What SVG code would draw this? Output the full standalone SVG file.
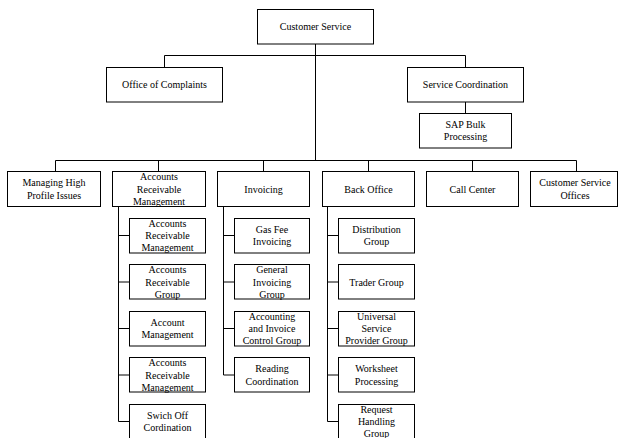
<svg xmlns="http://www.w3.org/2000/svg" width="618" height="438" viewBox="0 0 618 438">
<style>
.box{fill:#fff;stroke:#000;stroke-width:1}
.ln{fill:none;stroke:#000;stroke-width:1}
.t text{font-family:'Liberation Serif','Times New Roman',Times,serif;font-size:10px;fill:#000;text-anchor:middle}
</style>
<rect width="618" height="438" fill="#fff"/>
<g id="connectors" class="ln">
<path d="M315.5 44V160.5"/>
<path d="M164.5 67V55.5H465.5V67"/>
<path d="M465.5 102V113"/>
<path d="M55.5 171.5V160.5H576.5V171.5"/>
<path d="M158.5 160.5V171.5M263.5 160.5V171.5M368.5 160.5V171.5M472.5 160.5V171.5"/>
<path d="M118.5 206.5V421.5M118.5 235.5H129M118.5 282H129M118.5 328.5H129M118.5 375H129M118.5 421.5H129"/>
<path d="M223.5 206.5V375M223.5 235.5H234M223.5 282H234M223.5 328.5H234M223.5 375H234"/>
<path d="M327.5 206.5V421.5M327.5 235.5H338M327.5 282H338M327.5 328.5H338M327.5 375H338M327.5 421.5H338"/>
</g>
<g class="t" font-family="Liberation Serif, Times New Roman, serif" font-size="10" text-anchor="middle">
<g id="customer-service"><rect class="box" x="257.5" y="9.5" width="116" height="34.5"/><text x="315.5" y="30">Customer Service</text></g>
<g id="office-of-complaints"><rect class="box" x="106.5" y="67.5" width="116" height="34.5"/><text x="164.5" y="88">Office of Complaints</text></g>
<g id="service-coordination"><rect class="box" x="407.5" y="67.5" width="116" height="34.5"/><text x="465.5" y="88">Service Coordination</text></g>
<g id="sap-bulk"><rect class="box" x="419.5" y="113.5" width="92" height="34.5"/><text x="465.5" y="127.9">SAP Bulk</text><text x="465.5" y="140.2">Processing</text></g>

<g id="managing-high"><rect class="box" x="7.5" y="171.5" width="93" height="35"/><text x="54" y="186.4">Managing High</text><text x="54" y="198.7">Profile Issues</text></g>
<g id="arm"><rect class="box" x="112.5" y="171.5" width="93" height="35"/><text x="159" y="180.2">Accounts</text><text x="159" y="192.5">Receivable</text><text x="159" y="204.8">Management</text></g>
<g id="invoicing"><rect class="box" x="217.5" y="171.5" width="92" height="35"/><text x="263.5" y="192.5">Invoicing</text></g>
<g id="back-office"><rect class="box" x="322.5" y="171.5" width="92" height="35"/><text x="368.5" y="192.5">Back Office</text></g>
<g id="call-center"><rect class="box" x="426.5" y="171.5" width="92" height="35"/><text x="472.5" y="192.5">Call Center</text></g>
<g id="cs-offices"><rect class="box" x="530.5" y="171.5" width="87" height="35"/><text x="575" y="186.4">Customer Service</text><text x="575" y="198.7">Offices</text></g>

<g id="arm-1"><rect class="box" x="129.5" y="218.5" width="76" height="34.5"/><text x="167.5" y="226.7">Accounts</text><text x="167.5" y="239">Receivable</text><text x="167.5" y="251.3">Management</text></g>
<g id="arm-2"><rect class="box" x="129.5" y="264.5" width="76" height="34.5"/><text x="167.5" y="273.2">Accounts</text><text x="167.5" y="285.5">Receivable</text><text x="167.5" y="297.8">Group</text></g>
<g id="arm-3"><rect class="box" x="129.5" y="311.5" width="76" height="34.5"/><text x="167.5" y="325.9">Account</text><text x="167.5" y="338.2">Management</text></g>
<g id="arm-4"><rect class="box" x="129.5" y="357.5" width="76" height="34.5"/><text x="167.5" y="366.2">Accounts</text><text x="167.5" y="378.5">Receivable</text><text x="167.5" y="390.8">Management</text></g>
<g id="arm-5"><rect class="box" x="129.5" y="404.5" width="76" height="35"/><text x="167.5" y="418.9">Swich Off</text><text x="167.5" y="431.2">Cordination</text></g>

<g id="inv-1"><rect class="box" x="234.5" y="218.5" width="75" height="34.5"/><text x="272" y="232.9">Gas Fee</text><text x="272" y="245.2">Invoicing</text></g>
<g id="inv-2"><rect class="box" x="234.5" y="264.5" width="75" height="34.5"/><text x="272" y="273.2">General</text><text x="272" y="285.5">Invoicing</text><text x="272" y="297.8">Group</text></g>
<g id="inv-3"><rect class="box" x="234.5" y="311.5" width="75" height="34.5"/><text x="272" y="319.7">Accounting</text><text x="272" y="332">and Invoice</text><text x="272" y="344.3">Control Group</text></g>
<g id="inv-4"><rect class="box" x="234.5" y="357.5" width="75" height="34.5"/><text x="272" y="372.4">Reading</text><text x="272" y="384.7">Coordination</text></g>

<g id="bo-1"><rect class="box" x="338.5" y="218.5" width="76" height="34.5"/><text x="376.5" y="232.9">Distribution</text><text x="376.5" y="245.2">Group</text></g>
<g id="bo-2"><rect class="box" x="338.5" y="264.5" width="76" height="34.5"/><text x="376.5" y="285.5">Trader Group</text></g>
<g id="bo-3"><rect class="box" x="338.5" y="311.5" width="76" height="34.5"/><text x="376.5" y="319.7">Universal</text><text x="376.5" y="332">Service</text><text x="376.5" y="344.3">Provider Group</text></g>
<g id="bo-4"><rect class="box" x="338.5" y="357.5" width="76" height="34.5"/><text x="376.5" y="372.4">Worksheet</text><text x="376.5" y="384.7">Processing</text></g>
<g id="bo-5"><rect class="box" x="338.5" y="404.5" width="76" height="35"/><text x="376.5" y="412.7">Request</text><text x="376.5" y="425">Handling</text><text x="376.5" y="437.3">Group</text></g>
</g>
</svg>
